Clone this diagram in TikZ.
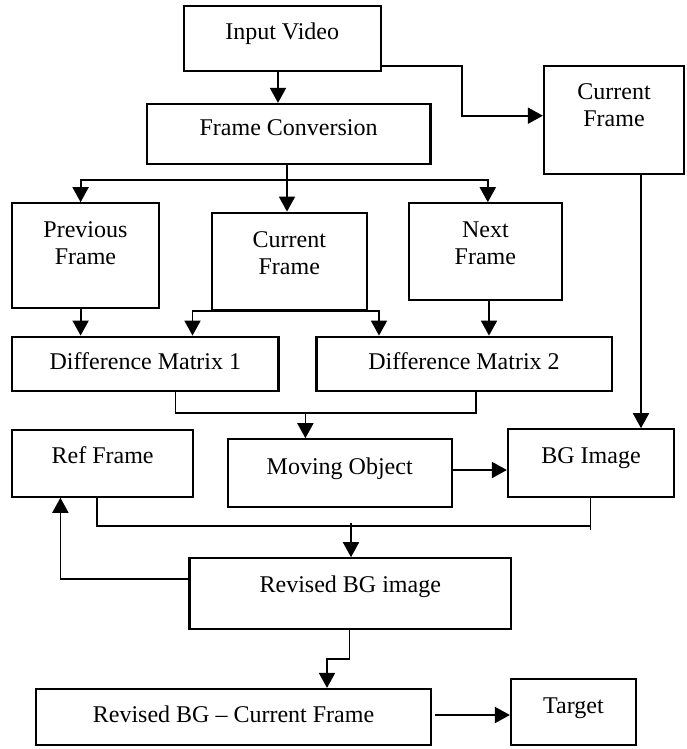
\documentclass[tikz,border=0pt]{standalone}
\usepackage{fontspec}
\setmainfont{Liberation Serif}
\usetikzlibrary{arrows.meta}
\tikzset{
  box/.style={draw, line width=1.1pt, inner sep=0pt, font=\fontsize{12}{13.5}\selectfont},
  arr/.style={line width=0.9pt, -{Triangle[width=8pt,length=7.5pt]}},
  ln/.style={line width=0.9pt},
}
% \bx{name}{x1}{y1}{x2}{y2}{text}{raise}
\newcommand\bx[7]{%
  \node[box, minimum width={(#4-#2)*0.5pt}, minimum height={(#5-#3)*0.5pt}]
    (#1) at ({(#2+#4)/2},{(#3+#5)/2})
    {\raisebox{#7}[\height][\depth]{\begin{tabular}{@{}c@{}}#6\end{tabular}}};}
\begin{document}
\begin{tikzpicture}[x=0.5pt,y=-0.5pt]
\useasboundingbox (0,0) rectangle (686,749);
% boxes
\bx{iv}{183.7}{6}{380.7}{71}{Input Video}{2pt}
\bx{fc}{146.7}{104}{430.5}{164}{Frame Conversion}{2pt}
\bx{cfr}{544}{65.7}{684}{174.3}{Current\\Frame}{6pt}
\bx{pf}{12.3}{203.3}{158.6}{307.7}{Previous\\Frame}{5pt}
\bx{cfm}{212}{212.7}{366.6}{310}{Current\\Frame}{3pt}
\bx{nf}{408.9}{203.3}{561.8}{300}{Next\\Frame}{3pt}
\bx{dm1}{12.3}{336.7}{278.5}{390.7}{Difference Matrix 1}{0pt}
\bx{dm2}{316.4}{336.7}{611.6}{390.7}{Difference Matrix 2}{0pt}
\bx{rf}{12.3}{430}{193}{496.7}{Ref Frame}{2.5pt}
\bx{mo}{227.8}{439.3}{451.6}{506.7}{Moving Object}{2pt}
\bx{bg}{508}{429.3}{674}{496.7}{BG Image}{2.5pt}
\bx{rbg}{189.5}{558.3}{511}{629.3}{Revised BG image}{3.5pt}
\bx{rc}{36.1}{689}{431}{745}{Revised BG \textendash{} Current Frame}{0pt}
\bx{tg}{511}{679}{635.8}{745}{Target}{2pt}
% helper coordinates
\coordinate (x1) at (278,0);
\coordinate (k1) at (461.7,65.7);
\coordinate (k2) at (0,115.7);
\coordinate (b1) at (287,180);
\coordinate (xp) at (80.6,0);
\coordinate (xn) at (487.8,0);
\coordinate (xc1) at (192.5,0);
\coordinate (xc2) at (379,0);
\coordinate (xq) at (489,0);
\coordinate (m1) at (175.4,412.7);
\coordinate (m2) at (475.9,412.7);
\coordinate (m3) at (305.4,412.7);
\coordinate (xr) at (641,0);
\coordinate (ym) at (0,470);
\coordinate (r1) at (97,525.7);
\coordinate (r2) at (590.4,525.7);
\coordinate (r3) at (351,523.3);
\coordinate (r4) at (590.4,530);
\coordinate (xl) at (60.4,579.3);
\coordinate (s1) at (349.4,659);
\coordinate (s2) at (327,659);
\coordinate (yt) at (0,715);
% connectors
\draw[arr] (x1 |- iv.south) -- (x1 |- fc.north);
\draw[arr] (iv.east |- k1) -- (k1) |- (cfr.west |- k2);
\draw[arr] (b1 |- fc.south) -- (b1 |- cfm.north);
\draw[arr] (b1) -| (xp |- pf.north);
\draw[arr] (b1) -| (xn |- nf.north);
\draw[arr] (xp |- pf.south) -- (xp |- dm1.north);
\draw[arr] (cfm.south) -| (xc1 |- dm1.north);
\draw[arr] (cfm.south) -| (xc2 |- dm2.north);
\draw[arr] (xq |- nf.south) -- (xq |- dm2.north);
\draw[ln] (m1 |- dm1.south) -- (m1) -- (m2) -- (m2 |- dm2.south);
\draw[arr] (m3) -- (m3 |- mo.north);
\draw[arr] (xr |- cfr.south) -- (xr |- bg.north);
\draw[arr] (mo.east |- ym) -- (bg.west |- ym);
\draw[ln] (r1 |- rf.south) -- (r1) -- (r2);
\draw[ln] (r2 |- bg.south) -- (r4);
\draw[arr] (r3) -- (r3 |- rbg.north);
\draw[arr] (rbg.west |- xl) -- (xl) -- (xl |- rf.south);
\draw[arr] (s1 |- rbg.south) -- (s1) -- (s2) -- (s2 |- rc.north);
\draw[arr] ([xshift=1.5pt]rc.east |- yt) -- (tg.west |- yt);
\end{tikzpicture}
\end{document}
